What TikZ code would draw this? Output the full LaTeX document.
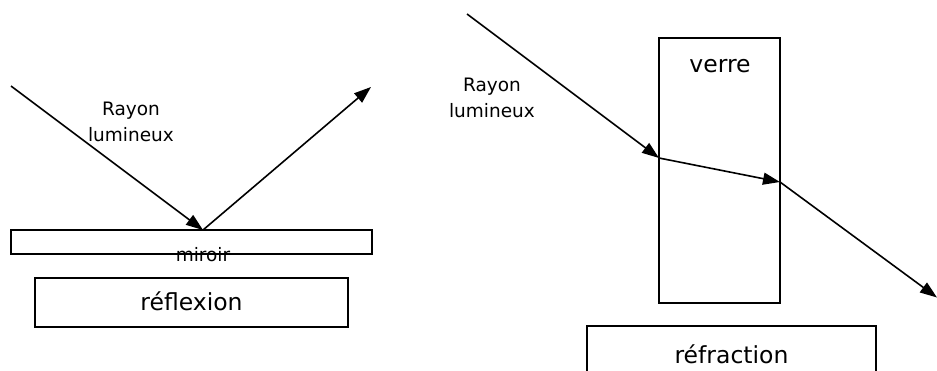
\documentclass[tikz,border=0pt]{standalone}
\usepackage{fontspec}
\setmainfont{DejaVu Sans}
\usetikzlibrary{arrows.meta}
\begin{document}
\begin{tikzpicture}[x=1pt,y=-1pt,
  box/.style={draw,line width=1.6pt,inner sep=0pt,anchor=center},
  ray/.style={line width=1.6pt,-{Triangle[length=17pt,width=12pt]}},
  small/.style={font=\fontsize{18.5}{25.5}\selectfont,align=center,inner sep=0pt},
  big/.style={font=\fontsize{23.5}{28}\selectfont,inner sep=0pt}]
\useasboundingbox (0,0) rectangle (937,370);
\begin{scope}
\clip (0,0) rectangle (937,370);
% reflection
\node[box,minimum width=361pt,minimum height=24pt] (mir) at (191.5,242) {};
\node[box,minimum width=313pt,minimum height=49pt] (refl) at (191.5,302.5) {};
\node[big] (refltxt) at (191.5,301) {réflexion};
\node[small,anchor=base] (mirtxt) at (203,261) {miroir};
\node[small] (ray1) at (131,122) {Rayon\\lumineux};
\coordinate (s1) at (11,86);
\coordinate (p1) at (203,230);
\coordinate (e1) at (371,87);
\draw[ray] (s1) -- (p1);
\draw[ray] (p1) -- (e1);
% refraction
\node[box,minimum width=121pt,minimum height=265pt] (glass) at (719.5,170.5) {};
\node[big] (verre) at (720,66) {verre};
\node[box,minimum width=289pt,minimum height=60pt] (refr) at (731.5,356) {};
\node[big] (refrtxt) at (731.5,354) {réfraction};
\node[small] (ray2) at (492,98) {Rayon\\lumineux};
\coordinate (s2) at (467,14);
\coordinate (p2) at (659,158);
\coordinate (p3) at (780,182);
\coordinate (e2) at (937,297.5);
\draw[ray] (s2) -- (p2);
\draw[ray] (p2) -- (p3);
\draw[ray] (p3) -- (e2);
\end{scope}
\end{tikzpicture}
\end{document}
